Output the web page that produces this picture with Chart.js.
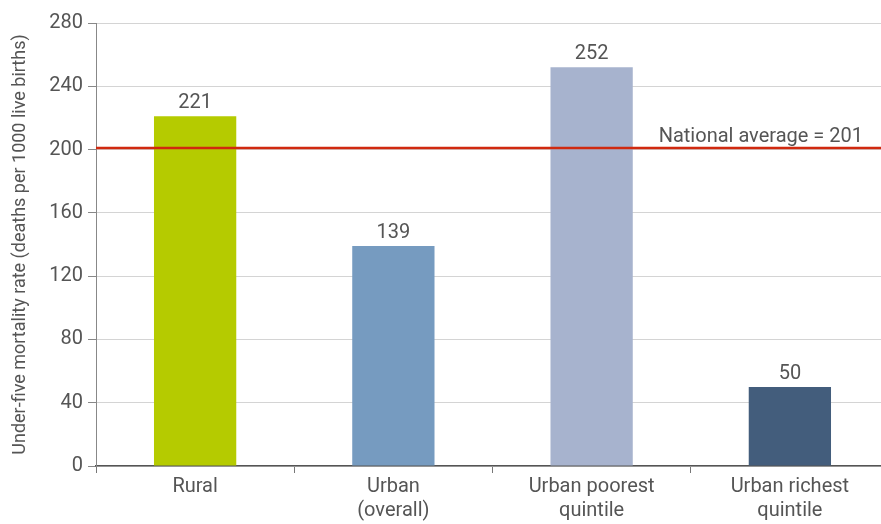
<!DOCTYPE html>
<html>
<head>
<meta charset="utf-8">
<script src="https://cdn.jsdelivr.net/npm/chart.js@4.4.1/dist/chart.umd.min.js"></script>
<style>
  html, body { margin: 0; padding: 0; background: #fff; overflow: hidden; }
  #wrap { position: relative; width: 889px; height: 524px; }
</style>
</head>
<body>
<div id="wrap"><canvas id="c"></canvas></div>
<script>
const categories = [["Rural"], ["Urban", "(overall)"], ["Urban poorest", "quintile"], ["Urban richest", "quintile"]];
const values = [221, 139, 252, 50];
const barColors = ["#b5cb00", "#769bc0", "#a7b3ce", "#435d7c"];
const nationalAverage = 201;
const nationalLabel = "National average = " + nationalAverage;
const yTicks = [0, 40, 80, 120, 160, 200, 240, 280];

const FONT = "Roboto, 'Liberation Sans Narrow', sans-serif";

const overlay = {
  id: 'overlay',
  afterDatasetsDraw(chart) {
    const ctx = chart.ctx;
    const meta = chart.getDatasetMeta(0);
    ctx.save();
    ctx.font = "20px " + FONT;
    ctx.fillStyle = "#555";
    ctx.textAlign = "center";
    ctx.textBaseline = "alphabetic";
    meta.data.forEach((bar, i) => {
      ctx.fillText(String(values[i]), bar.x, bar.y - 8);
    });
    const y = chart.scales.y.getPixelForValue(nationalAverage);
    const area = chart.chartArea;
    ctx.strokeStyle = "#d0290f";
    ctx.lineWidth = 2.5;
    ctx.beginPath();
    ctx.moveTo(area.left, y);
    ctx.lineTo(area.right, y);
    ctx.stroke();
    ctx.textAlign = "right";
    ctx.fillText(nationalLabel, 863, y - 6);
    ctx.restore();
  }
};

new Chart(document.getElementById('c'), {
  type: 'bar',
  data: {
    labels: categories,
    datasets: [{
      data: values,
      backgroundColor: barColors,
      borderWidth: 0,
      barPercentage: 0.415,
      categoryPercentage: 1.0
    }]
  },
  options: {
    responsive: true,
    maintainAspectRatio: false,
    animation: false,
    layout: { padding: { top: 23, right: 0, left: 10, bottom: 0 } },
    plugins: { legend: { display: false }, tooltip: { enabled: false } },
    scales: {
      x: {
        grid: { drawOnChartArea: false, offset: true, tickLength: 7, color: '#777' },
        border: { color: '#555', width: 1.5 },
        ticks: { color: '#555', font: { family: FONT, size: 20 }, padding: 2, maxRotation: 0 },
        afterFit(s) { s.height = 58; }
      },
      y: {
        min: 0, max: 280,
        afterBuildTicks(s) { s.ticks = yTicks.map(v => ({ value: v })); },
        grid: { color: '#d4d4d4', tickLength: 8, tickColor: '#888' },
        border: { color: '#888', width: 1 },
        ticks: { color: '#555', font: { family: FONT, size: 20 }, padding: 5 },
        title: {
          display: true,
          text: 'Under-five mortality rate (deaths per 1000 live births)',
          color: '#555',
          font: { family: FONT, size: 18 },
          padding: 0
        },
        afterFit(s) { s.width = 86; }
      }
    }
  },
  plugins: [overlay]
});
</script>
</body>
</html>
